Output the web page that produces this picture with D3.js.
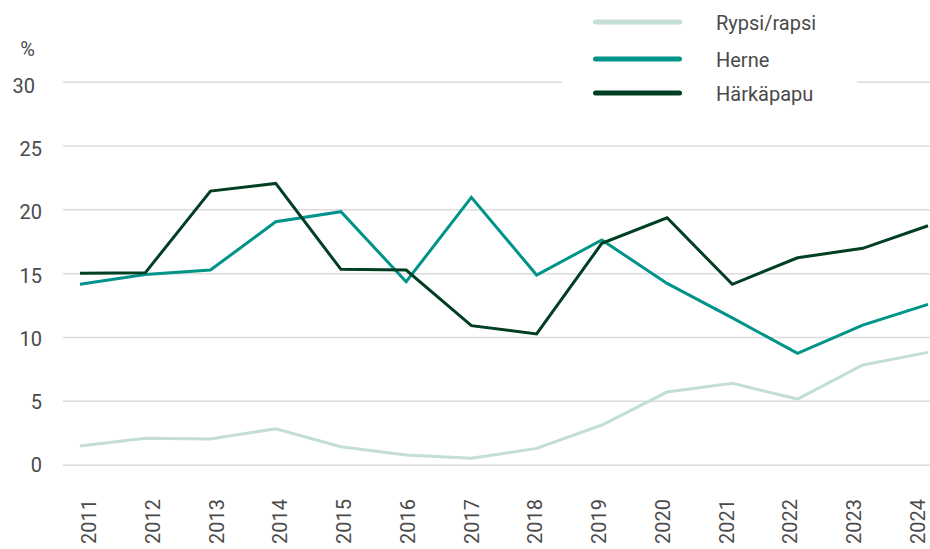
<!DOCTYPE html>
<html>
<head>
<meta charset="utf-8">
<script src="https://cdn.jsdelivr.net/npm/d3@7"></script>
<style>
  body { margin: 0; background: #fff; }
  text { font-family: Roboto, "Noto Sans", sans-serif; fill: #4a4a4a; }
</style>
</head>
<body>
<svg id="chart" width="930" height="549"></svg>
<script>
// data
var years = ["2011","2012","2013","2014","2015","2016","2017","2018","2019","2020","2021","2022","2023","2024"];
var rypsi = [1.46, 2.07, 2.01, 2.82, 1.41, 0.76, 0.5, 1.28, 3.11, 5.69, 6.37, 5.14, 7.81, 8.8];
var herne = [14.13, 14.9, 15.25, 19.03, 19.82, 14.33, 20.94, 14.86, 17.6, 14.2, 11.5, 8.72, 10.94, 12.56];
var harkapapu = [15.0, 15.03, 21.43, 22.03, 15.3, 15.25, 10.89, 10.24, 17.34, 19.34, 14.13, 16.21, 16.95, 18.72];
var yTicks = [0, 5, 10, 15, 20, 25, 30];
var seriesNames = ["Rypsi/rapsi", "Herne", "Härkäpapu"];
var seriesColors = ["#c2ded7", "#00938a", "#003f22"];

var svg = d3.select("#chart"),
    left = 63,
    right = 930;

// scales
var x = d3.scalePoint().domain(years).range([80, 928]),
    xLab = d3.scalePoint().domain(years).range([96, 925]),   // labels sit a bit off the points
    y = d3.scaleLinear().domain([0, 30]).range([464.7, 81.7]),
    yLab = d3.scaleLinear().domain([0, 30]).range([471.7, 93.3]);

// gridlines
var grid = svg.append("g")
    .attr("transform", "translate(" + left + ",0)")
    .call(d3.axisLeft(y).tickValues(yTicks).tickSize(-(right - left)).tickFormat(""));
grid.select(".domain").remove();
grid.selectAll("line").attr("stroke", "#dcdcdc").attr("stroke-width", 1.5);

// y labels
svg.append("g").selectAll("text")
    .data(yTicks)
    .enter()
    .append("text")
    .attr("x", function (d) { return d == 30 ? 35 : 42; })
    .attr("y", function (d) { return yLab(d); })
    .attr("text-anchor", "end")
    .style("font-size", "20px")
    .text(function (d) { return d; });

svg.append("text")
    .attr("x", 35)
    .attr("y", 56)
    .attr("text-anchor", "end")
    .style("font-size", "20px")
    .text("%");

// x labels (rotated)
svg.append("g").selectAll("text")
    .data(years)
    .enter()
    .append("text")
    .attr("transform", function (d) { return "translate(" + xLab(d) + ",544)rotate(-90)"; })
    .attr("text-anchor", "start")
    .style("font-size", "20px")
    .text(function (d) { return d; });

// lines
var line = d3.line()
    .x(function (d, i) { return x(years[i]); })
    .y(function (d) { return y(d); });

[rypsi, herne, harkapapu].forEach(function (s, i) {
    svg.append("path")
        .datum(s)
        .attr("d", line)
        .attr("fill", "none")
        .attr("stroke", seriesColors[i])
        .attr("stroke-width", 3);
});

// legend
svg.append("rect")
    .attr("x", 562).attr("y", 0)
    .attr("width", 295).attr("height", 110)
    .attr("fill", "#fff");

var legendY = [22, 59, 93];
var lg = svg.append("g").selectAll("g")
    .data(seriesNames)
    .enter()
    .append("g")
    .attr("transform", function (d, i) { return "translate(0," + legendY[i] + ")"; });

lg.append("line")
    .attr("x1", 595.5).attr("x2", 679.5)
    .attr("stroke", function (d, i) { return seriesColors[i]; })
    .attr("stroke-width", 5)
    .attr("stroke-linecap", "round");

lg.append("text")
    .attr("x", 716)
    .attr("y", 7.5)
    .style("font-size", "20px")
    .text(function (d) { return d; });
</script>
</body>
</html>
